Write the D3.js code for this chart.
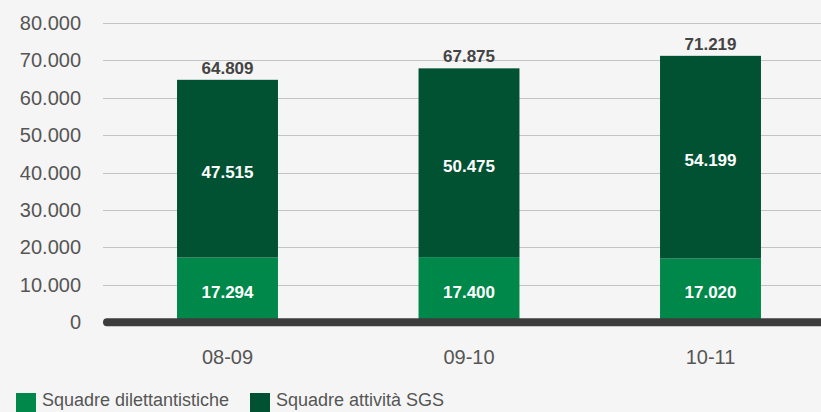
<!DOCTYPE html>
<html><head><meta charset="utf-8">
<script src="https://cdn.jsdelivr.net/npm/d3@7"></script>
<style>
html,body{margin:0;padding:0;background:#f5f5f5;}
svg{display:block;font-family:"Liberation Sans",Arial,sans-serif;}
</style></head>
<body>
<svg id="chart" width="821" height="412"></svg>
<script>
const categories = ["08-09","09-10","10-11"];
const dilettantistiche = [17294, 17400, 17020];
const attivitaSGS = [47515, 50475, 54199];
const totals = [64809, 67875, 71219];
const yTicks = [0,10000,20000,30000,40000,50000,60000,70000,80000];
const seriesNames = ["Squadre dilettantistiche","Squadre attività SGS"];
const colors = ["#00884a","#005232"];

const svg = d3.select("#chart");
const fmt = v => d3.format(",")(v).replace(/,/g,".");

const y = d3.scaleLinear().domain([0,80000]).range([322.2,23]);
const x = d3.scaleBand().domain(categories).range([106.75,831.25]).paddingInner(0.582).paddingOuter(0.291);

// gridlines
svg.append("g").selectAll("line").data(yTicks.filter(d=>d>0)).join("line")
  .attr("x1",103).attr("x2",821)
  .attr("y1",d=>Math.round(y(d))+0.5).attr("y2",d=>Math.round(y(d))+0.5)
  .attr("stroke","#c4c4c4").attr("stroke-width",1.2);

// y labels
svg.append("g").selectAll("text").data(yTicks).join("text")
  .attr("x",81).attr("y",d=>y(d)).attr("dy","0.35em")
  .attr("text-anchor","end").attr("font-size",20).attr("fill","#555")
  .text(d=>fmt(d));

const stackData = categories.map((c,i)=>({cat:c, a:dilettantistiche[i], b:attivitaSGS[i], t:totals[i]}));

const g = svg.append("g");
// light segments
g.selectAll("rect.a").data(stackData).join("rect").attr("class","a")
  .attr("x",d=>x(d.cat)).attr("width",x.bandwidth())
  .attr("y",d=>y(d.a)).attr("height",d=>y(0)-y(d.a)).attr("fill",colors[0]);
g.selectAll("rect.b").data(stackData).join("rect").attr("class","b")
  .attr("x",d=>x(d.cat)).attr("width",x.bandwidth())
  .attr("y",d=>y(d.a+d.b)).attr("height",d=>y(d.a)-y(d.a+d.b)).attr("fill",colors[1]);

// inner labels
g.selectAll("text.la").data(stackData).join("text").attr("class","la")
  .attr("x",d=>x(d.cat)+x.bandwidth()/2).attr("y",d=>(y(0)+y(d.a))/2+2).attr("dy","0.35em")
  .attr("text-anchor","middle").attr("font-size",17).attr("font-weight","bold").attr("fill","#fff")
  .text(d=>fmt(d.a));
g.selectAll("text.lb").data(stackData).join("text").attr("class","lb")
  .attr("x",d=>x(d.cat)+x.bandwidth()/2).attr("y",d=>(y(d.a)+y(d.a+d.b))/2+3).attr("dy","0.35em")
  .attr("text-anchor","middle").attr("font-size",17).attr("font-weight","bold").attr("fill","#fff")
  .text(d=>fmt(d.b));
g.selectAll("text.lt").data(stackData).join("text").attr("class","lt")
  .attr("x",d=>x(d.cat)+x.bandwidth()/2).attr("y",d=>y(d.t)-6)
  .attr("text-anchor","middle").attr("font-size",17).attr("font-weight","bold").attr("fill","#444")
  .text(d=>fmt(d.t));

// baseline
svg.append("line").attr("x1",107).attr("x2",830).attr("y1",y(0)).attr("y2",y(0))
  .attr("stroke","#3c3c3c").attr("stroke-width",8).attr("stroke-linecap","round");

// x labels
svg.append("g").selectAll("text").data(categories).join("text")
  .attr("x",d=>x(d)+x.bandwidth()/2).attr("y",357).attr("dy","0.35em")
  .attr("text-anchor","middle").attr("font-size",20).attr("fill","#555")
  .text(d=>d);

// legend
const leg = svg.append("g");
const legX = [16,250];
seriesNames.forEach((n,i)=>{
  leg.append("rect").attr("x",legX[i]).attr("y",393).attr("width",20).attr("height",20).attr("fill",colors[i]);
  leg.append("text").attr("x",legX[i]+26).attr("y",406).attr("font-size",18).attr("fill","#555").text(n);
});
</script>
</body></html>
